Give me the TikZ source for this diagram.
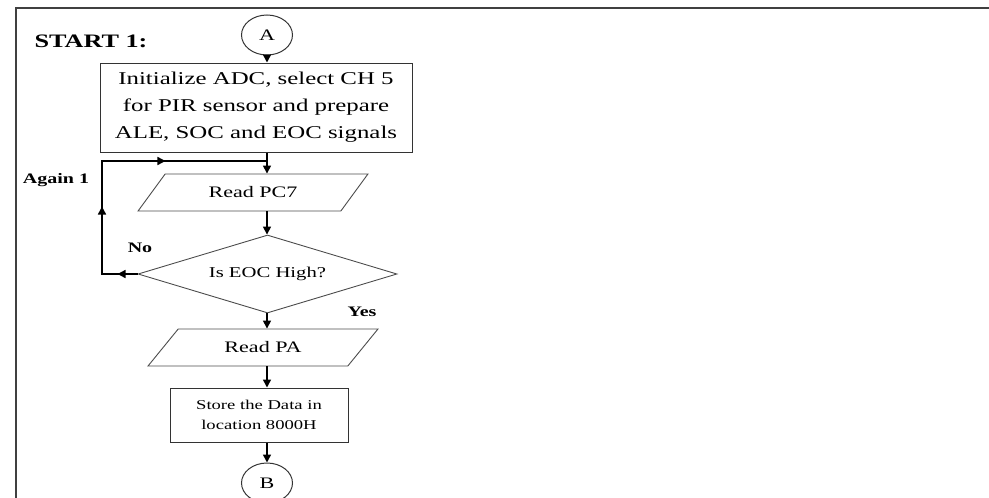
\documentclass[tikz,border=0pt]{standalone}
\usepackage{fontspec}
\setmainfont{Liberation Serif}[FakeStretch=1.38]
\newfontfamily\boldlabel{Liberation Serif Bold}[FakeStretch=1.38]
\usetikzlibrary{shapes.geometric,arrows.meta,decorations.markings}

\begin{document}
\begin{tikzpicture}[x=1pt, y=-1pt]
    \tikzstyle{frame}=[line width=2pt, black!75]
    \tikzstyle{flow}=[line width=1.6pt, -{Triangle[length=8pt, width=8pt]}]
    \tikzstyle{process}=[draw=black!80, line width=1pt, align=center, inner sep=0pt]
    \tikzstyle{io}=[draw=black!70, line width=0.9pt, trapezium, trapezium left angle=39.4, trapezium right angle=140.6, trapezium stretches=true, minimum width=230pt, minimum height=37pt, inner sep=0pt, font=\fontsize{16}{18}\selectfont]
    \tikzstyle{decision}=[draw=black!70, line width=0.9pt, diamond, aspect=3.32, minimum width=259pt, minimum height=78pt, inner sep=0pt, font=\fontsize{15}{18}\selectfont]
    \tikzstyle{connector}=[draw=black!80, line width=1pt, ellipse, minimum width=51pt, minimum height=40pt, inner sep=0pt, font=\fontsize{16}{18}\selectfont]
    \tikzstyle{remark}=[font=\boldlabel\fontsize{14.5}{16}\selectfont]
    \tikzstyle{heading}=[font=\boldlabel\fontsize{19}{20}\selectfont]
    \useasboundingbox (0,0) rectangle (989,498);
    \draw [frame] (989,7.5) -- (16,7.5) -- (16,498);
    \node [heading] (start) at (91,41) {START 1:};
    \node [connector] (a) at (267,35) {A};
    \node [process, minimum width=312pt, minimum height=89pt, font=\fontsize{18}{27}\selectfont] (init) at (256,107.5) {Initialize ADC, select CH 5\\for PIR sensor and prepare\\ALE, SOC and EOC signals};
    \node [io] (pc7) at (253,192.5) {Read PC7};
    \node [decision] (eoc) at (267.5,274) {Is EOC High?};
    \node [io] (pa) at (263,347.5) {Read PA};
    \node [process, minimum width=178pt, minimum height=54pt, font=\fontsize{13.5}{20}\selectfont] (store) at (259,415) {Store the Data in\\location 8000H};
    \node [connector] (b) at (267,483) {B};
    \node [remark] (again) at (56,180) {Again 1};
    \node [remark] (no) at (140,248) {No};
    \node [remark] (yes) at (362,312) {Yes};
    \coordinate (back) at (102,161);
    % main flow
    \draw [flow] (a.south) -- (init.north -| a);
    \draw [flow] (init.south -| a) -- (pc7.north -| a);
    \draw [flow] (pc7.south -| a) -- (eoc.north -| a);
    \draw [flow] (eoc.south -| a) -- (pa.north -| a);
    \draw [flow] (pa.south -| a) -- (store.north -| a);
    \draw [flow] (store.south -| a) -- (b.north);
    % loop back when EOC is low
    \draw [line width=1.6pt, postaction={decorate}, decoration={markings,
        mark=at position 20pt with {\arrow{Triangle[length=8pt, width=8pt]}},
        mark=at position 103pt with {\arrow{Triangle[length=8pt, width=8pt]}},
        mark=at position 212pt with {\arrow{Triangle[length=8pt, width=8pt]}}}]
        (eoc.west) -- (eoc.west -| back) -- (back) -- (back -| a);
\end{tikzpicture}
\end{document}
